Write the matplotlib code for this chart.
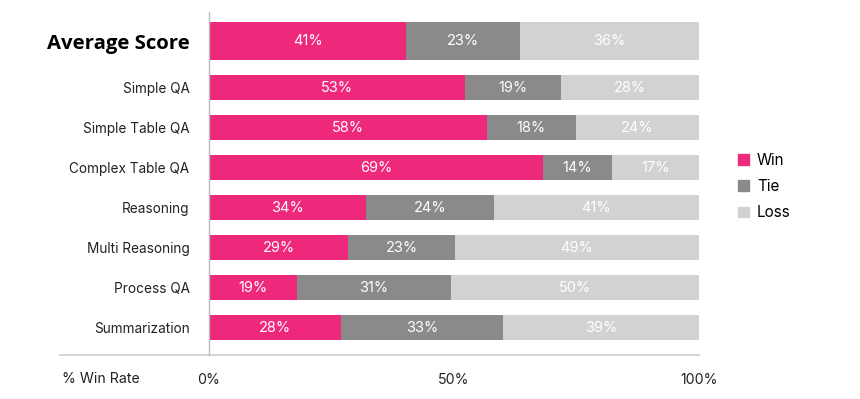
import matplotlib
matplotlib.use("agg")
from matplotlib import pyplot as plt
from matplotlib.patches import Patch

categories = ["Average Score", "Simple QA", "Simple Table QA", "Complex Table QA",
              "Reasoning", "Multi Reasoning", "Process QA", "Summarization"]
# bar lengths (percent)
win = [40.2, 52.2, 56.7, 68.2, 32.0, 28.4, 18.0, 26.9]
tie = [23.3, 19.6, 18.2, 14.0, 26.1, 21.8, 31.4, 33.1]
loss = [36.5, 28.2, 25.1, 17.8, 41.8, 49.8, 50.6, 40.0]
# printed labels
win_lbl = ["41%", "53%", "58%", "69%", "34%", "29%", "19%", "28%"]
tie_lbl = ["23%", "19%", "18%", "14%", "24%", "23%", "31%", "33%"]
loss_lbl = ["36%", "28%", "24%", "17%", "41%", "49%", "50%", "39%"]
xticks = [0, 50, 100]
xtick_lbl = ["0%", "50%", "100%"]

c_win = "#EE297B"
c_tie = "#8A8A8A"
c_loss = "#D2D2D2"

plt.rcParams["font.family"] = ["Inter", "DejaVu Sans"]

fig = plt.figure(figsize=(8.6, 3.99), dpi=100)
ax = fig.add_axes([209 / 860, 1 - 355 / 399, 490 / 860, 343 / 399])

n = len(categories)
ypos = [n - 1 - i for i in range(n)]
ypos[0] = ypos[1] + 1.1625
heights = [0.625] * n
heights[0] = 0.95

left2 = [w + t for w, t in zip(win, tie)]
ax.barh(ypos, win, height=heights, color=c_win)
ax.barh(ypos, tie, left=win, height=heights, color=c_tie)
ax.barh(ypos, loss, left=left2, height=heights, color=c_loss)

for i in range(n):
    ax.text(win[i] / 2, ypos[i], win_lbl[i], color="white", ha="center",
            va="center", fontsize=10.5)
    ax.text(win[i] + tie[i] / 2, ypos[i], tie_lbl[i], color="white",
            ha="center", va="center", fontsize=10.5)
    ax.text(left2[i] + loss[i] / 2, ypos[i], loss_lbl[i], color="white",
            ha="center", va="center", fontsize=10.5)

ax.set_xlim(0, 100)
ax.set_ylim(-0.6875, 7.8875)
ax.set_xticks(xticks)
ax.set_xticklabels(xtick_lbl, fontsize=10.2, color="#222222")
ax.set_yticks(ypos)
ax.set_yticklabels(categories, fontsize=9.8, color="#222222")
ax.tick_params(length=0)
ax.tick_params(axis="x", pad=13)
ax.tick_params(axis="y", pad=14)
first = ax.get_yticklabels()[0]
first.set_fontfamily(["Open Sans", "DejaVu Sans"])
first.set_fontweight("bold")
first.set_fontsize(14.7)
first.set_color("black")

for s in ["top", "right", "bottom"]:
    ax.spines[s].set_visible(False)
ax.spines["left"].set_color("#BBBBBB")
ax.spines["left"].set_linewidth(1)

# bottom rule reaching out under the labels
ax.plot([-0.304, 1], [0, 0], transform=ax.transAxes, color="#CCCCCC",
        lw=1.2, clip_on=False)
fig.text(62 / 860, 1 - 379 / 399, "% Win Rate", fontsize=10.2, color="#222222",
         va="center", ha="left")

handles = [Patch(color=c_win, label="Win"), Patch(color=c_tie, label="Tie"),
           Patch(color=c_loss, label="Loss")]
fig.legend(handles=handles, loc="center left",
           bbox_to_anchor=(738 / 860, 1 - 186.5 / 399), frameon=False,
           fontsize=11, handlelength=0.7, handleheight=0.7,
           handletextpad=0.55, labelspacing=0.75, borderpad=0,
           borderaxespad=0)

fig.savefig("out.png", dpi=100)
plt.close()
